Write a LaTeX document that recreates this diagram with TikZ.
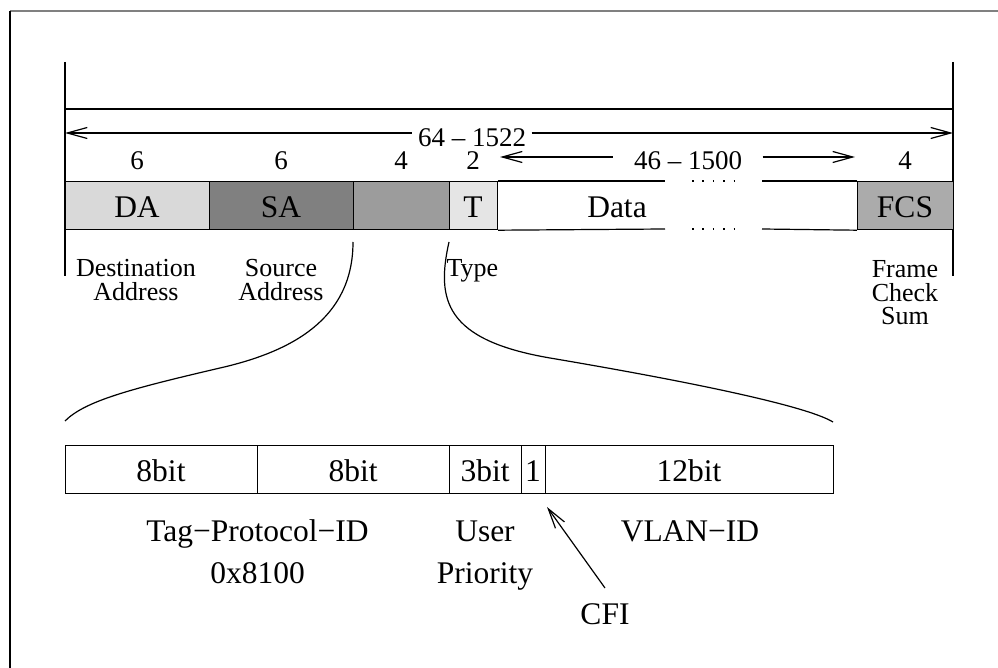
\documentclass[tikz,border=0pt]{standalone}
\usepackage{fontspec}
\setmainfont{Liberation Serif}
\usetikzlibrary{arrows.meta}
\definecolor{cDA}{gray}{0.85}
\definecolor{cSA}{gray}{0.50}
\definecolor{cTag}{gray}{0.61}
\definecolor{cT}{gray}{0.90}
\definecolor{cFCS}{gray}{0.67}
\tikzset{
  field/.style={draw, inner sep=0pt, minimum height=24pt, anchor=north west},
  big/.style={font=\fontsize{15.75}{18}\selectfont, inner sep=0pt, anchor=base},
  small/.style={font=\fontsize{13}{15}\selectfont, inner sep=0pt, anchor=base},
  dim/.style={font=\fontsize{13.5}{16}\selectfont, inner sep=0pt, anchor=base},
  dotrow/.style={dash pattern=on 0.8pt off 4.4pt},
}
\begin{document}
\begin{tikzpicture}[x=0.5pt, y=-0.5pt, line width=0.6pt,
    >={Straight Barb[length=10pt,width=5.5pt]}]
\useasboundingbox (0,0) rectangle (998,668);

% outer frame
\draw[gray] (10,11) -- (998,11);
\draw (10,11) -- (10,668);

% frame extent markers
\draw (65,62) -- (65,276);
\draw (953,62) -- (953,276);
\draw (65,109) -- (953,109);

% total length
\coordinate (aL) at (65,133);
\coordinate (aR) at (953,133);
\node[dim, inner xsep=2.5pt] (tot) at (472,147) {64 – 1522};
\draw[<-] (aL) -- (aL -| tot.west);
\draw[->] (aR -| tot.east) -- (aR);

% payload length
\coordinate (dL) at (500,157);
\coordinate (dR) at (855,157);
\node[dim, inner xsep=10pt] (dlen) at (688,170) {46 – 1500};
\draw[<-] (dL) -- (dL -| dlen.west);
\draw[->] (dR -| dlen.east) -- (dR);

% byte counts
\node[dim] (n1) at (137,170) {6};
\node[dim] (n2) at (281,170) {6};
\node[dim] (n3) at (401,170) {4};
\node[dim] (n4) at (473,170) {2};
\node[dim] (n5) at (905,170) {4};

% Ethernet frame fields
\node[field, fill=cDA,  minimum width=72pt] (da)  at (65,181) {};
\node[field, fill=cSA,  minimum width=72pt] (sa)  at (209,181) {};
\node[field, fill=cTag, minimum width=48pt] (tag) at (353,181) {};
\node[field, fill=cT,   minimum width=24pt] (ty)  at (449,181) {};
\node[field, fill=cFCS, minimum width=48pt] (fcs) at (857,181) {};

% open-ended data field
\draw (ty.north east) -- (665,181);
\draw (762,181) -- (fcs.north west);
\draw (ty.south east) -- (665,229);
\draw (762,229) -- (fcs.south west);
\draw[dotrow] (692,181) -- (738,181);
\draw[dotrow] (692,229) -- (738,229);

\node[big] (tDA)   at (137,218) {DA};
\node[big] (tSA)   at (281,218) {SA};
\node[big] (tT)    at (473,218) {T};
\node[big] (tData) at (617,218) {Data};
\node[big] (tFCS)  at (905,218) {FCS};

% field descriptions
\node[small] (dst1) at (136,277) {Destination};
\node[small] (dst2) at (136,301) {Address};
\node[small] (src1) at (281,277) {Source};
\node[small] (src2) at (281,301) {Address};
\node[small, anchor=base west] (typ) at (446,277) {Type};
\node[small] (fcs1) at (905,278) {Frame};
\node[small] (fcs2) at (905,301.5) {Check};
\node[small] (fcs3) at (905,325) {Sum};

% expansion of the VLAN tag
\coordinate (cLtop) at (353,242);
\coordinate (cLbot) at (65,421);
\coordinate (cRtop) at (449,242);
\coordinate (cRbot) at (833,422);
\draw (cLtop) .. controls (353,320) and (290,352) .. (220,368)
              .. controls (130,389) and (85,401) .. (cLbot);
\draw (cRtop) .. controls (436,300) and (445,340) .. (550,358)
              .. controls (680,380) and (805,405) .. (cRbot);

% VLAN tag bit fields
\node[field, minimum width=96pt] (b1) at (65,445) {};
\node[field, minimum width=96pt] (b2) at (257,445) {};
\node[field, minimum width=36pt] (b3) at (449,445) {};
\node[field, minimum width=12pt] (b4) at (521,445) {};
\node[field, minimum width=144pt] (b5) at (545,445) {};

\node[big] (l1) at (161,482) {8bit};
\node[big] (l2) at (353,482) {8bit};
\node[big] (l3) at (485,482) {3bit};
\node[big] (l4) at (533,482) {1};
\node[big] (l5) at (689,482) {12bit};

\node[big] (tpid1) at (257.5,541.7) {Tag−Protocol−ID};
\node[big] (tpid2) at (257.5,583.3) {0x8100};
\node[big] (up1)   at (485,541.7) {User};
\node[big] (up2)   at (485,583.3) {Priority};
\node[big] (vid)   at (690,541.7) {VLAN−ID};
\node[big] (cfi)   at (605,625) {CFI};

\coordinate (cfiTail) at (605,588);
\coordinate (cfiTip)  at (547,507);
\draw[->] (cfiTail) -- (cfiTip);
\end{tikzpicture}
\end{document}
